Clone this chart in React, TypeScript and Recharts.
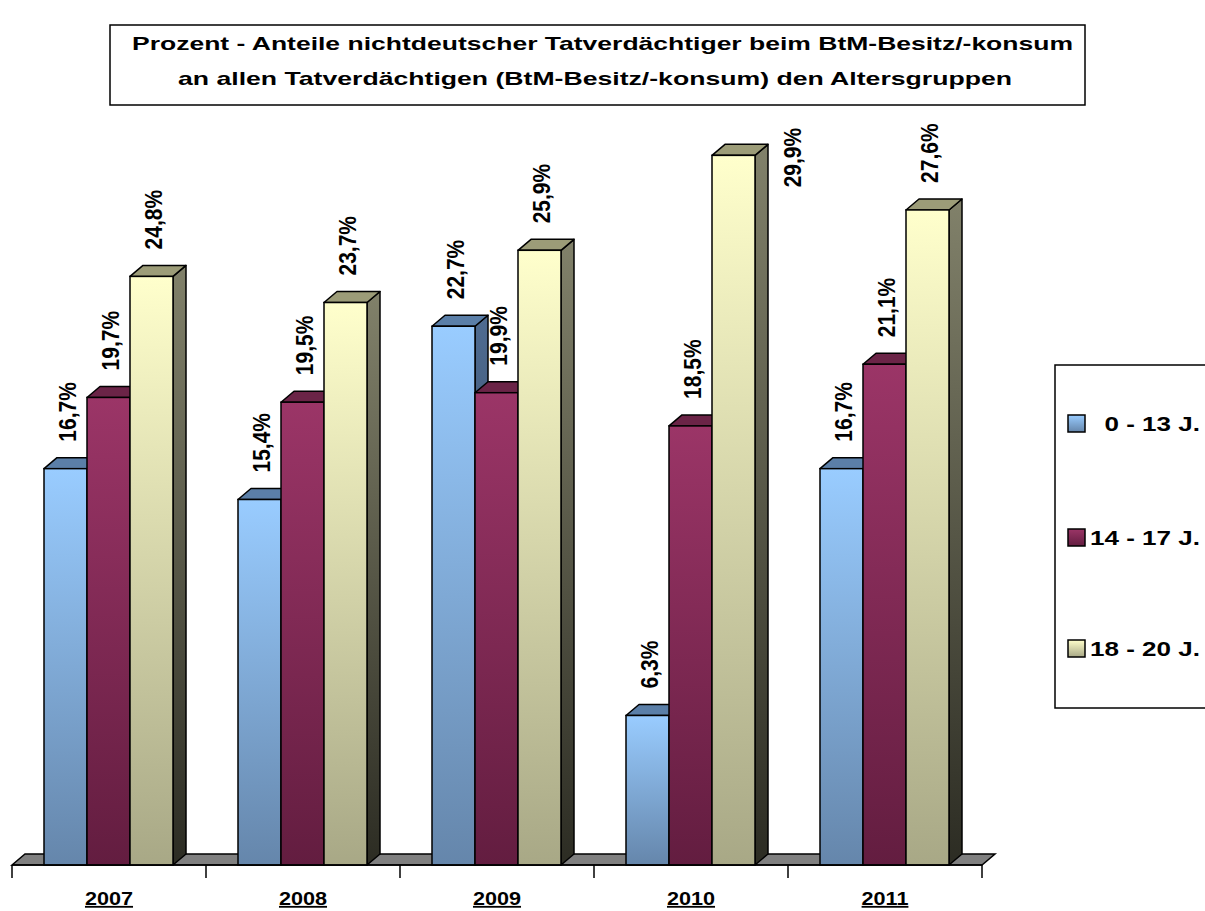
import { BarChart, Bar, XAxis, YAxis, LabelList, ReferenceArea } from "recharts";

const years = ["2007", "2008", "2009", "2010", "2011"];
const age0to13 = [16.7, 15.4, 22.7, 6.3, 16.7];
const age14to17 = [19.7, 19.5, 19.9, 18.5, 21.1];
const age18to20 = [24.8, 23.7, 25.9, 29.9, 27.6];
const seriesNames = ["0 - 13 J.", "14 - 17 J.", "18 - 20 J."];
const titleLines = [
  "Prozent - Anteile nichtdeutscher Tatverdächtiger beim BtM-Besitz/-konsum",
  "an allen Tatverdächtigen (BtM-Besitz/-konsum) den Altersgruppen"
];

const data = years.map((year, i) => ({
  year,
  a: age0to13[i],
  b: age14to17[i],
  c: age18to20[i]
}));

const W = 1205;
const H = 911;
const margin = { top: 153, right: 223, bottom: 16, left: 12 };
const PLOT_W = W - margin.left - margin.right;
const BAND = PLOT_W / years.length;
const DX = 13;
const DY = 11;
const FONT = "'Liberation Sans', Arial, sans-serif";

const colors: Record<string, any> = {
  a: { front: ["#99ccff", "#6586ab"], top: "#5b7fa8", side: ["#4f6c91", "#24344a"] },
  b: { front: ["#9b3567", "#631d40"], top: "#6b2447", side: ["#5a1c3a", "#2a0d1b"] },
  c: { front: ["#ffffcc", "#a8a886"], top: "#9c9c78", side: ["#81816a", "#2c2c23"] }
};
const keys = ["a", "b", "c"];

const fmt = (v: number) => v.toFixed(1).replace(".", ",") + "%";

function makeShape(key: string) {
  return (p: any) => {
    const { x, y, width: w, height: h } = p;
    if (h == null || w == null) return <g />;
    return (
      <g>
        <polygon
          points={`${x + w},${y} ${x + w + DX},${y - DY} ${x + w + DX},${y + h - DY} ${x + w},${y + h}`}
          fill={`url(#side-${key})`}
          stroke="#000"
          strokeWidth={1.5}
          strokeLinejoin="round"
        />
        <polygon
          points={`${x},${y} ${x + DX},${y - DY} ${x + w + DX},${y - DY} ${x + w},${y}`}
          fill={colors[key].top}
          stroke="#000"
          strokeWidth={1.5}
          strokeLinejoin="round"
        />
        <rect x={x} y={y} width={w} height={h} fill={`url(#front-${key})`} stroke="#000" strokeWidth={1.5} />
      </g>
    );
  };
}

const renderLabel = (p: any) => {
  const vb = p.viewBox || p;
  const x = vb.x ?? p.x;
  const y = vb.y ?? p.y;
  const width = vb.width ?? p.width;
  const len = 62;
  let cx = x + width / 2 + 2;
  let bottom = y - 27;
  // no room above the bar: put the label beside it
  if (bottom - len < 110) {
    cx = x + width + 37;
    bottom = y + 32;
  }
  return (
    <text
      transform={`translate(${cx},${bottom}) rotate(-90) scale(1,1.15)`}
      x={0}
      y={7.5}
      fontSize={21}
      fontWeight="bold"
      fontFamily={FONT}
      fill="#000"
    >
      {fmt(Number(p.value))}
    </text>
  );
};

const renderTick = (p: any) => {
  const { x, y, payload } = p;
  const isLast = payload.value === years[years.length - 1];
  return (
    <g>
      <line x1={x - BAND / 2} y1={y} x2={x - BAND / 2} y2={y + 13} stroke="#000" strokeWidth={1.5} />
      {isLast && <line x1={x + BAND / 2} y1={y} x2={x + BAND / 2} y2={y + 13} stroke="#000" strokeWidth={1.5} />}
      <text
        transform={`translate(${x},${y + 40}) scale(1.2,1)`}
        textAnchor="middle"
        fontSize={18}
        fontWeight="bold"
        fontFamily={FONT}
        textDecoration="underline"
        fill="#000"
      >
        {payload.value}
      </text>
    </g>
  );
};

const renderFloor = (p: any) => {
  const { x, y, width: w, height: h } = p;
  const fy = y + h;
  return (
    <polygon
      points={`${x},${fy} ${x + DX},${fy - DY} ${x + w + DX},${fy - DY} ${x + w},${fy}`}
      fill="#808080"
      stroke="#000"
      strokeWidth={1.5}
    />
  );
};

export default function App() {
  return (
    <div style={{ position: "absolute", left: 0, top: 0, width: W, height: H, background: "#fff" }}>
      <BarChart width={W} height={H} data={data} margin={margin} barGap={0} barCategoryGap={32}>
        <XAxis
          dataKey="year"
          interval={0}
          tickSize={0}
          tickMargin={0}
          height={30}
          tickLine={false}
          axisLine={{ stroke: "#000", strokeWidth: 1.5 }}
          tick={renderTick}
        />
        <YAxis hide domain={[0, 30]} />
        <ReferenceArea y1={0} y2={0.42} shape={renderFloor} ifOverflow="visible" />
        {keys.map((k, i) => (
          <Bar key={k} dataKey={k} name={seriesNames[i]} isAnimationActive={false} shape={makeShape(k)}>
            <LabelList dataKey={k} content={renderLabel} />
          </Bar>
        ))}
      </BarChart>
      <svg
        width={W}
        height={H}
        style={{ position: "absolute", left: 0, top: 0, pointerEvents: "none" }}
      >
        <defs>
          {keys.map((k) => (
            <linearGradient key={"f" + k} id={`front-${k}`} x1="0" y1="0" x2="0" y2="1">
              <stop offset="0%" stopColor={colors[k].front[0]} />
              <stop offset="100%" stopColor={colors[k].front[1]} />
            </linearGradient>
          ))}
          {keys.map((k) => (
            <linearGradient key={"s" + k} id={`side-${k}`} x1="0" y1="0" x2="0" y2="1">
              <stop offset="0%" stopColor={colors[k].side[0]} />
              <stop offset="100%" stopColor={colors[k].side[1]} />
            </linearGradient>
          ))}
        </defs>
        <rect x={110} y={25} width={975} height={80} fill="#fff" stroke="#000" strokeWidth={1.5} />
        <text
          x={132}
          y={50}
          textLength={941}
          lengthAdjust="spacingAndGlyphs"
          fontSize={19}
          fontWeight="bold"
          fontFamily={FONT}
          fill="#000"
        >
          {titleLines[0]}
        </text>
        <text
          x={178}
          y={85}
          textLength={834}
          lengthAdjust="spacingAndGlyphs"
          fontSize={19}
          fontWeight="bold"
          fontFamily={FONT}
          fill="#000"
        >
          {titleLines[1]}
        </text>
        <rect x={1055} y={365} width={200} height={343} fill="#fff" stroke="#000" strokeWidth={1.5} />
        {seriesNames.map((name, i) => {
          const cy = [423, 537, 648][i];
          return (
            <g key={name}>
              <rect x={1068} y={cy - 8} width={17} height={17} fill={`url(#front-${keys[i]})`} stroke="#000" strokeWidth={1.5} />
              <text
                transform={`translate(1200,${cy + 8}) scale(1.24,1)`}
                textAnchor="end"
                fontSize={21}
                fontWeight="bold"
                fontFamily={FONT}
                fill="#000"
              >
                {name}
              </text>
            </g>
          );
        })}
      </svg>
    </div>
  );
}
